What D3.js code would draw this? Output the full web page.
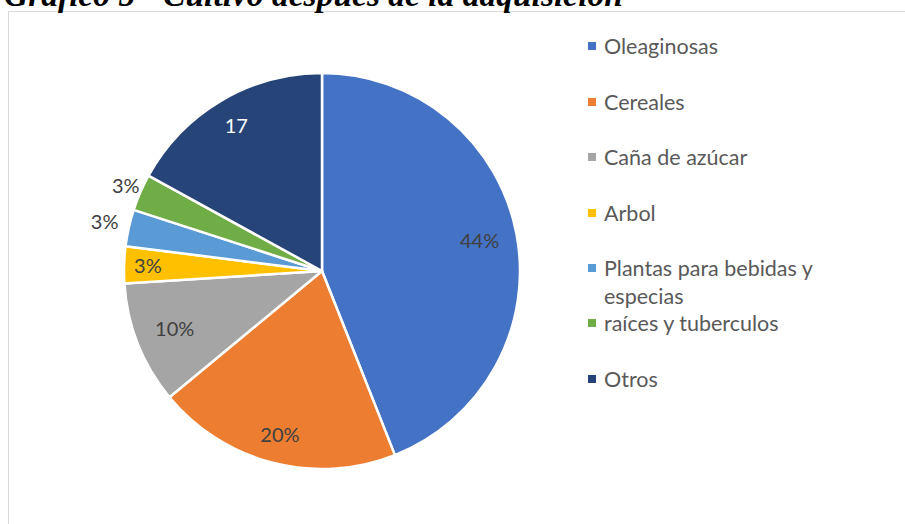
<!DOCTYPE html>
<html lang="es">
<head>
<meta charset="UTF-8">
<title>Cultivo después de la adquisición</title>
<script src="https://d3js.org/d3.v7.min.js"></script>
<style>
  body { margin: 0; background: #fff; }
  svg { display: block; }
</style>
</head>
<body>
<svg width="905" height="524"></svg>
<script>
const categories = ["Oleaginosas", "Cereales", "Caña de azúcar", "Arbol",
                    "Plantas para bebidas y especias", "raíces y tuberculos", "Otros"];
const values = [44, 20, 10, 3, 3, 3, 17];
const labels = ["44%", "20%", "10%", "3%", "3%", "3%", "17"];
const colors = ["#4472c4", "#ed7d31", "#a5a5a5", "#ffc000", "#5b9bd5", "#70ad47", "#264478"];

const width = 905, height = 524;
const cx = 322, cy = 271, radius = 198;
const font = "Lato, 'Open Sans', sans-serif";

const svg = d3.select("svg");

// frame
svg.append("rect")
   .attr("x", 8.5).attr("y", 11.5)
   .attr("width", 910).attr("height", 530)
   .attr("fill", "none")
   .attr("stroke", "#d9d9d9");

// title (cut at top like original)
svg.append("text")
   .attr("x", 4).attr("y", 6)
   .style("font-family", "'Liberation Serif', 'Times New Roman', serif")
   .style("font-size", "33.5px")
   .style("font-weight", "bold")
   .style("font-style", "italic")
   .text("Gráfico 5 - Cultivo despúes de la adquisición");

const pie = d3.pie().sort(null).value(d => d);
const arcs = pie(values);
const arc = d3.arc().innerRadius(0).outerRadius(radius);

const g = svg.append("g").attr("transform", `translate(${cx},${cy})`);

g.selectAll("path")
 .data(arcs)
 .enter().append("path")
 .attr("d", arc)
 .attr("fill", (d, i) => colors[i])
 .attr("stroke", "#fff")
 .attr("stroke-width", 2.5)
 .attr("stroke-linejoin", "round");

// label radius factor per slice (small ones sit outside)
const labelR = [0.81, 0.855, 0.80, 0.88, 1.125, 1.08, 0.85];
g.selectAll("text.lbl")
 .data(arcs)
 .enter().append("text")
 .attr("class", "lbl")
 .attr("transform", (d, i) => {
    const a = (d.startAngle + d.endAngle) / 2;
    const r = radius * labelR[i];
    return `translate(${Math.sin(a) * r},${-Math.cos(a) * r})`;
 })
 .attr("text-anchor", "middle")
 .attr("dy", "0.35em")
 .style("font-family", font)
 .style("font-size", "20px")
 .attr("fill", (d, i) => i === 6 ? "#ffffff" : "#404040")
 .text((d, i) => labels[i]);

// legend
const legendRows = [46, 102, 157, 213, 268, 323, 379];
const legend = svg.append("g");
categories.forEach((c, i) => {
  legend.append("rect")
        .attr("x", 588).attr("y", legendRows[i] - 4)
        .attr("width", 8).attr("height", 8)
        .attr("fill", colors[i]);
  const t = legend.append("text")
        .attr("x", 604).attr("y", legendRows[i])
        .attr("dy", "0.35em")
        .style("font-family", font)
        .style("font-size", "21.5px")
        .attr("fill", "#595959");
  if (i === 4) {
    t.append("tspan").attr("x", 604).text("Plantas para bebidas y");
    t.append("tspan").attr("x", 604).attr("dy", "28px").text("especias");
  } else {
    t.text(c);
  }
});
</script>
</body>
</html>
